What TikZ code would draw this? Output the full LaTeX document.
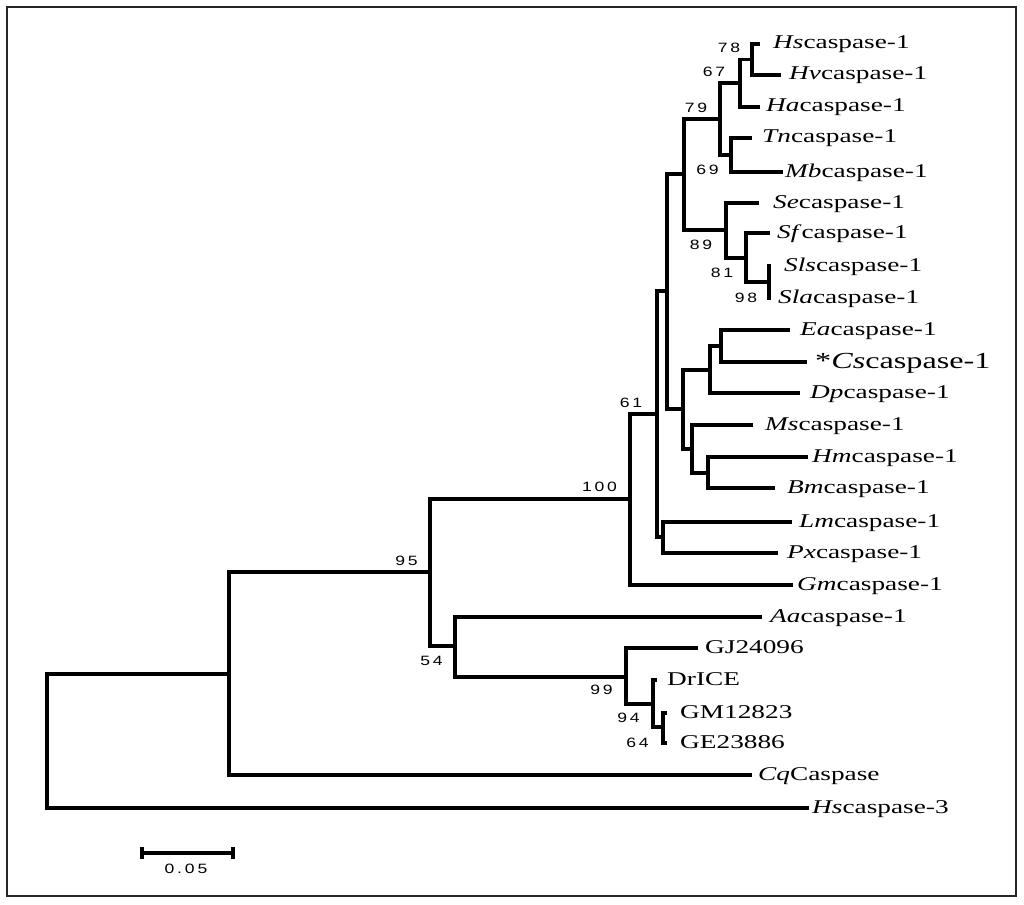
\documentclass[tikz,border=0pt]{standalone}
\usepackage{fontspec}
\usepackage{graphicx}
\setmainfont{Liberation Serif}
\newfontfamily\bsf{Liberation Sans}
\newcommand\lab[2]{\scalebox{1.4}[1]{\textit{#1}#2}}
\newcommand\bsl[1]{\scalebox{1.3}[1]{#1}}
\tikzset{
  br/.style={line width=3.1pt, line join=miter},
  leaf/.style={anchor=base west, inner sep=0pt, font=\fontsize{19.5}{20}\selectfont},
  bigleaf/.style={anchor=base west, inner sep=0pt, font=\fontsize{23}{24}\selectfont},
  bs/.style={inner sep=0pt, font=\bsf\fontsize{13.5}{14}\selectfont},
  frm/.style={line width=2.2pt, draw=black!85}
}
\begin{document}
\begin{tikzpicture}[x=1pt,y=-1pt]
\useasboundingbox (0,0) rectangle (1024,904);
\draw[frm] (7,7) rectangle (1016,896);

% internal nodes
\coordinate (n78) at (752,59.5);
\coordinate (n67) at (740,83);
\coordinate (n69) at (731,155);
\coordinate (n79) at (720,119);
\coordinate (n98) at (769,282);
\coordinate (n81) at (746,258);
\coordinate (n89) at (726,230);
\coordinate (nA) at (684,174);
\coordinate (nEC) at (721,346);
\coordinate (nD) at (710,370);
\coordinate (nHB) at (708,473);
\coordinate (nM) at (692,449);
\coordinate (nB) at (683,409);
\coordinate (nC) at (667,291);
\coordinate (nLP) at (663,537);
\coordinate (n61) at (657,414);
\coordinate (n100) at (630,499);
\coordinate (nGG) at (663,727);
\coordinate (n94) at (653,704);
\coordinate (n99) at (626,677);
\coordinate (n54) at (455,646);
\coordinate (n95) at (430,572);
\coordinate (nR1) at (229,674);
\coordinate (root) at (47,741);

% leaf tips
\coordinate (tHs) at (760,44);
\coordinate (tHv) at (781,75);
\coordinate (tHa) at (760,107);
\coordinate (tTn) at (752,138);
\coordinate (tMb) at (783,172);
\coordinate (tSe) at (759,203);
\coordinate (tSf) at (770,233);
\coordinate (tSls) at (771,266);
\coordinate (tSla) at (771,298);
\coordinate (tEa) at (790,330);
\coordinate (tCs) at (807,362);
\coordinate (tDp) at (800,393);
\coordinate (tMs) at (753,425);
\coordinate (tHm) at (808,457);
\coordinate (tBm) at (775,488);
\coordinate (tLm) at (792,522);
\coordinate (tPx) at (778,553);
\coordinate (tGm) at (793,585);
\coordinate (tAa) at (762,617);
\coordinate (tGJ) at (698,648);
\coordinate (tDr) at (657,680);
\coordinate (tGM) at (667,713);
\coordinate (tGE) at (667,743);
\coordinate (tCq) at (752,775);
\coordinate (tHs3) at (809,808);

% branches
\draw[br] (n78) |- (tHs);
\draw[br] (n78) |- (tHv);
\draw[br] (n67) |- (n78);
\draw[br] (n67) |- (tHa);
\draw[br] (n69) |- (tTn);
\draw[br] (n69) |- (tMb);
\draw[br] (n79) |- (n67);
\draw[br] (n79) |- (n69);
\draw[br] (n98) |- (tSls);
\draw[br] (n98) |- (tSla);
\draw[br] (n81) |- (tSf);
\draw[br] (n81) |- (n98);
\draw[br] (n89) |- (tSe);
\draw[br] (n89) |- (n81);
\draw[br] (nA) |- (n79);
\draw[br] (nA) |- (n89);
\draw[br] (nEC) |- (tEa);
\draw[br] (nEC) |- (tCs);
\draw[br] (nD) |- (nEC);
\draw[br] (nD) |- (tDp);
\draw[br] (nHB) |- (tHm);
\draw[br] (nHB) |- (tBm);
\draw[br] (nM) |- (tMs);
\draw[br] (nM) |- (nHB);
\draw[br] (nB) |- (nD);
\draw[br] (nB) |- (nM);
\draw[br] (nC) |- (nA);
\draw[br] (nC) |- (nB);
\draw[br] (nLP) |- (tLm);
\draw[br] (nLP) |- (tPx);
\draw[br] (n61) |- (nC);
\draw[br] (n61) |- (nLP);
\draw[br] (n100) |- (n61);
\draw[br] (n100) |- (tGm);
\draw[br] (nGG) |- (tGM);
\draw[br] (nGG) |- (tGE);
\draw[br] (n94) |- (tDr);
\draw[br] (n94) |- (nGG);
\draw[br] (n99) |- (tGJ);
\draw[br] (n99) |- (n94);
\draw[br] (n54) |- (tAa);
\draw[br] (n54) |- (n99);
\draw[br] (n95) |- (n100);
\draw[br] (n95) |- (n54);
\draw[br] (nR1) |- (n95);
\draw[br] (nR1) |- (tCq);
\draw[br] (root) |- (nR1);
\draw[br] (root) |- (tHs3);

% leaf labels
\node[leaf] (lHs) at (773,49) {\lab{Hs}{caspase-1}};
\node[leaf] (lHv) at (789,80) {\lab{Hv}{caspase-1}};
\node[leaf] (lHa) at (766,112) {\lab{Ha}{caspase-1}};
\node[leaf] (lTn) at (762,143) {\lab{Tn}{caspase-1}};
\node[leaf] (lMb) at (785,177) {\lab{Mb}{caspase-1}};
\node[leaf] (lSe) at (773,208) {\lab{Se}{caspase-1}};
\node[leaf] (lSf) at (777,238) {\lab{Sf}{caspase-1}};
\node[leaf] (lSls) at (784,271) {\lab{Sls}{caspase-1}};
\node[leaf] (lSla) at (778,303) {\lab{Sla}{caspase-1}};
\node[leaf] (lEa) at (800,335) {\lab{Ea}{caspase-1}};
\node[bigleaf] (lCs) at (815,368) {\scalebox{1.4}[1]{*\textit{Cs}caspase-1}};
\node[leaf] (lDp) at (810,398) {\lab{Dp}{caspase-1}};
\node[leaf] (lMs) at (765,430) {\lab{Ms}{caspase-1}};
\node[leaf] (lHm) at (812,462) {\lab{Hm}{caspase-1}};
\node[leaf] (lBm) at (787,493) {\lab{Bm}{caspase-1}};
\node[leaf] (lLm) at (799,527) {\lab{Lm}{caspase-1}};
\node[leaf] (lPx) at (787,558) {\lab{Px}{caspase-1}};
\node[leaf] (lGm) at (797,590) {\lab{Gm}{caspase-1}};
\node[leaf] (lAa) at (770,622) {\lab{Aa}{caspase-1}};
\node[leaf] (lGJ) at (705,653) {\lab{}{GJ24096}};
\node[leaf] (lDr) at (667,685) {\lab{}{DrICE}};
\node[leaf] (lGM) at (680,718) {\lab{}{GM12823}};
\node[leaf] (lGE) at (680,748) {\lab{}{GE23886}};
\node[leaf] (lCq) at (758,780) {\lab{Cq}{Caspase}};
\node[leaf] (lHs3) at (812,813) {\lab{Hs}{caspase-3}};

% bootstrap values
\node[bs] (b78) at (729,47.5) {\bsl{7\kern2.2pt8}};
\node[bs] (b67) at (714,72) {\bsl{6\kern2.2pt7}};
\node[bs] (b79) at (696,108) {\bsl{7\kern2.2pt9}};
\node[bs] (b69) at (707.5,170) {\bsl{6\kern2.2pt9}};
\node[bs] (b89) at (701,245) {\bsl{8\kern2.2pt9}};
\node[bs] (b81) at (722,273) {\bsl{8\kern2.2pt1}};
\node[bs] (b98) at (746,298) {\bsl{9\kern2.2pt8}};
\node[bs] (b61) at (631,403) {\bsl{6\kern2.2pt1}};
\node[bs] (b100) at (599.5,487) {\bsl{1\kern2.2pt0\kern2.2pt0}};
\node[bs] (b95) at (406.5,561) {\bsl{9\kern2.2pt5}};
\node[bs] (b54) at (431.5,661) {\bsl{5\kern2.2pt4}};
\node[bs] (b99) at (601.5,690) {\bsl{9\kern2.2pt9}};
\node[bs] (b94) at (628.5,718) {\bsl{9\kern2.2pt4}};
\node[bs] (b64) at (637.5,743) {\bsl{6\kern2.2pt4}};

% scale bar
\coordinate (sbL) at (142,853);
\coordinate (sbR) at (233,853);
\draw[br] (sbL) -- (sbR);
\draw[br] ([yshift=-6pt]sbL) -- ([yshift=6pt]sbL);
\draw[br] ([yshift=-6pt]sbR) -- ([yshift=6pt]sbR);
\node[bs] (sbT) at (186,869) {\bsl{0\kern2.2pt.\kern2.2pt0\kern2.2pt5}};
\end{tikzpicture}
\end{document}
